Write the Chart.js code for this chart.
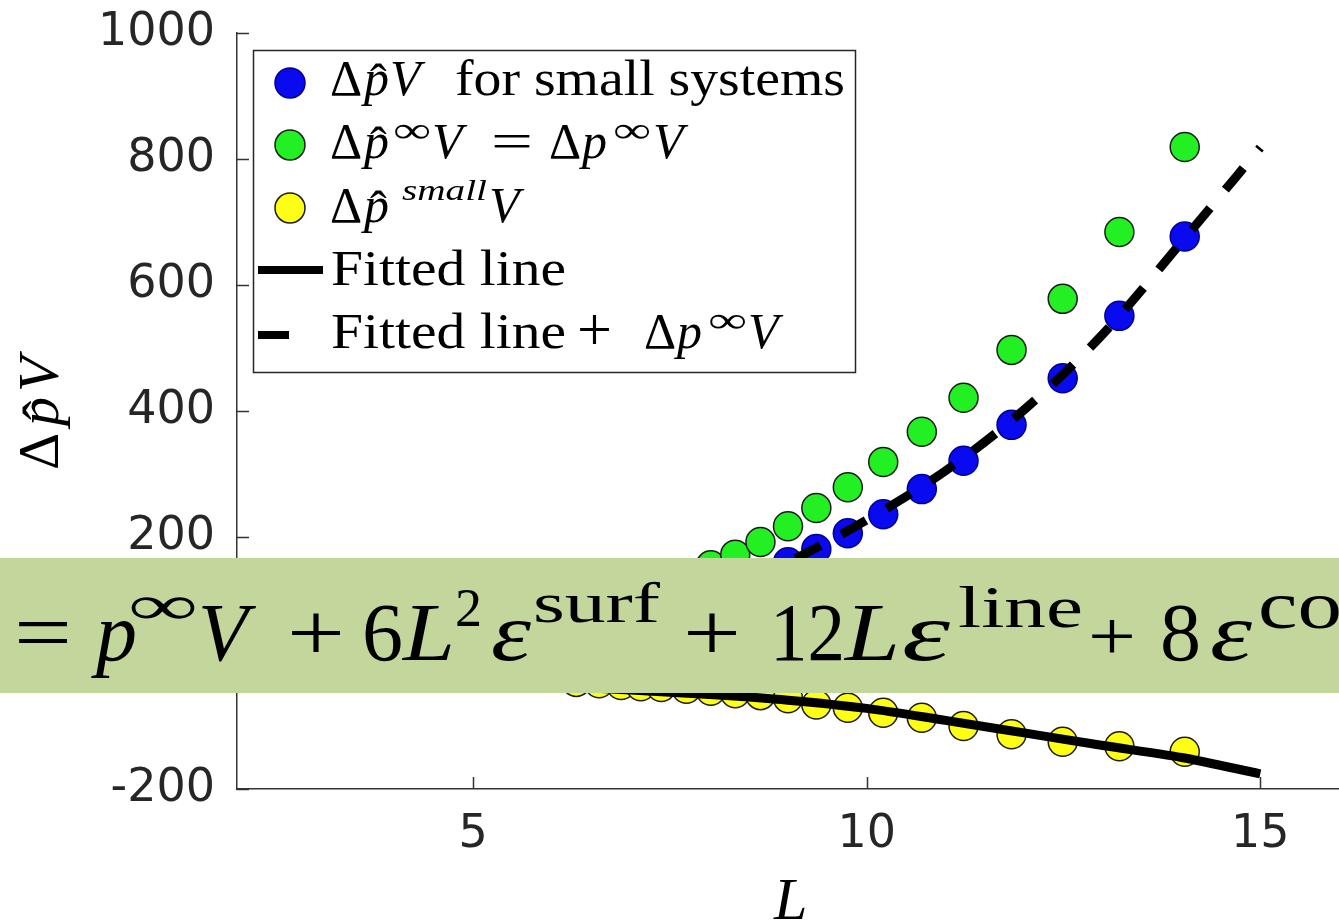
<!DOCTYPE html>
<html>
<head>
<meta charset="utf-8">
<script src="https://cdn.jsdelivr.net/npm/chart.js@4.4.1/dist/chart.umd.min.js"></script>
<style>
  body { margin: 0; background: #fff; }
  #wrap { position: relative; width: 1339px; height: 923px; overflow: hidden; }
  #overlay { position: absolute; left: 0; top: 0; pointer-events: none; }
</style>
</head>
<body>
<div id="wrap">
  <canvas id="pressureChart" width="1339" height="923"></canvas>
  <svg id="overlay" width="1339" height="923" font-family="Liberation Serif" fill="#000">
    <!-- y axis title -->
    <g transform="translate(58,470) rotate(-90)" font-size="58">
      <text x="0" y="0">Δ</text>
      <text x="44" y="0" font-style="italic">p</text>
      <text x="50" y="4">ˆ</text>
      <text x="78" y="0" font-style="italic">V</text>
    </g>
    <!-- x axis title -->
    <text x="774" y="919" font-size="60" font-style="italic">L</text>

    <!-- legend -->
    <rect x="253.5" y="50.5" width="602" height="322" fill="#fff" stroke="#262626" stroke-width="1.5"/>
    <circle id="legBlue" cx="290" cy="83" r="15" stroke-width="1.5"/>
    <circle id="legGreen" cx="290" cy="145" r="15" stroke-width="1.5"/>
    <circle id="legYellow" cx="290" cy="208" r="15" stroke-width="1.5"/>
    <line x1="258" y1="270" x2="323" y2="270" stroke="#000" stroke-width="8"/>
    <line x1="258" y1="335" x2="289" y2="335" stroke="#000" stroke-width="8"/>
    <g font-size="50">
      <text x="330" y="95">Δ</text>
      <text x="364" y="95" font-style="italic">p</text>
      <text x="370" y="99">ˆ</text>
      <text x="390" y="95" font-style="italic">V</text>
      <text x="455" y="95" textLength="390" lengthAdjust="spacingAndGlyphs">for small systems</text>

      <text x="330" y="158">Δ</text>
      <text x="364" y="158" font-style="italic">p</text>
      <text x="370" y="162">ˆ</text>
      <text x="393" y="142" font-size="36" textLength="38" lengthAdjust="spacingAndGlyphs">∞</text>
      <text x="432" y="158" font-style="italic">V</text>
      <text x="491" y="158" textLength="42" lengthAdjust="spacingAndGlyphs">=</text>
      <text x="549" y="158">Δ</text>
      <text x="582" y="158" font-style="italic">p</text>
      <text x="613" y="142" font-size="36" textLength="38" lengthAdjust="spacingAndGlyphs">∞</text>
      <text x="653" y="158" font-style="italic">V</text>

      <text x="330" y="222">Δ</text>
      <text x="364" y="222" font-style="italic">p</text>
      <text x="370" y="226">ˆ</text>
      <text x="402" y="200" font-size="30" font-style="italic" textLength="85" lengthAdjust="spacingAndGlyphs">small</text>
      <text x="489" y="222" font-style="italic">V</text>

      <text x="331" y="285" textLength="235" lengthAdjust="spacingAndGlyphs">Fitted line</text>

      <text x="331" y="348" textLength="235" lengthAdjust="spacingAndGlyphs">Fitted line</text>
      <text x="577" y="350" font-size="62">+</text>
      <text x="644" y="348">Δ</text>
      <text x="677" y="348" font-style="italic">p</text>
      <text x="708" y="332" font-size="36" textLength="39" lengthAdjust="spacingAndGlyphs">∞</text>
      <text x="748" y="348" font-style="italic">V</text>
    </g>

    <!-- equation banner -->
    <rect x="0" y="558" width="1339" height="135" fill="#c3d69b"/>
    <g font-size="82">
      <text x="14" y="660" textLength="58" lengthAdjust="spacingAndGlyphs">=</text>
      <text x="96" y="660" font-style="italic">p</text>
      <text x="128" y="624" font-size="56" textLength="70" lengthAdjust="spacingAndGlyphs">∞</text>
      <text x="198" y="660" font-style="italic">V</text>
      <text x="287" y="660" textLength="58" lengthAdjust="spacingAndGlyphs">+</text>
      <text x="362" y="660">6</text>
      <text x="403" y="660" font-style="italic" textLength="52" lengthAdjust="spacingAndGlyphs">L</text>
      <text x="455" y="626" font-size="54">2</text>
      <text x="491" y="660" font-style="italic" textLength="40" lengthAdjust="spacingAndGlyphs">ε</text>
      <text x="533" y="622" font-size="56" textLength="127" lengthAdjust="spacingAndGlyphs">surf</text>
      <text x="683" y="660" textLength="58" lengthAdjust="spacingAndGlyphs">+</text>
      <text x="770" y="660" textLength="75" lengthAdjust="spacingAndGlyphs">12</text>
      <text x="845" y="660" font-style="italic" textLength="55" lengthAdjust="spacingAndGlyphs">L</text>
      <text x="902" y="660" font-style="italic" textLength="48" lengthAdjust="spacingAndGlyphs">ε</text>
      <text x="958" y="627" font-size="60" textLength="125" lengthAdjust="spacingAndGlyphs">line</text>
      <text x="1088" y="660" font-size="70" textLength="48" lengthAdjust="spacingAndGlyphs">+</text>
      <text x="1160" y="660">8</text>
      <text x="1210" y="660" font-style="italic" textLength="42" lengthAdjust="spacingAndGlyphs">ε</text>
      <text x="1258" y="628" font-size="68" textLength="84" lengthAdjust="spacingAndGlyphs">co</text>
    </g>
  </svg>
</div>
<script>
// system sizes L (same for all three point series)
const L_VALUES = [6.31, 6.60, 6.88, 7.13, 7.39, 7.71, 8.02, 8.33, 8.65, 9.00, 9.36, 9.76, 10.21, 10.70, 11.23, 11.84, 12.49, 13.21, 14.04];
const SMALL_SYSTEMS = [44, 53, 61, 70, 81, 95, 111, 124, 141, 160, 181, 206, 236, 276, 321, 378, 452, 551, 677];
const INFINITE_PART = [74, 85, 96, 107, 119, 136, 155, 172, 192, 217, 246, 279, 319, 367, 421, 497, 578, 684, 819];
const SMALL_PART = [-30, -32, -35, -37, -38, -41, -44, -48, -51, -56, -66, -71, -79, -87, -100, -113, -125, -132, -141];

// fitted curves, read at whole L
const FIT_L = [6, 7, 8, 9, 10, 11, 12, 13, 14, 15];
const FITTED = [-36, -43, -50, -59, -72, -91, -111, -131, -150, -176];
const FITTED_PLUS_INF = [25, 60, 104, 160, 227, 305, 402, 522, 668, 818];

const X_TICKS = [5, 10, 15];
const Y_TICKS = [-200, 0, 200, 400, 600, 800, 1000];

const BLUE = "#0a0af0";
const BLUE_EDGE = "#000090";
const GREEN = "#22f022";
const YELLOW = "#ffff14";
const EDGE = "#1c1c1c";
const AXIS = "#333333";

function pairs(xs, ys) {
  return xs.map((x, i) => ({ x: x, y: ys[i] }));
}

document.getElementById("legBlue").setAttribute("fill", BLUE);
document.getElementById("legBlue").setAttribute("stroke", BLUE_EDGE);
document.getElementById("legGreen").setAttribute("fill", GREEN);
document.getElementById("legGreen").setAttribute("stroke", EDGE);
document.getElementById("legYellow").setAttribute("fill", YELLOW);
document.getElementById("legYellow").setAttribute("stroke", EDGE);

// MATLAB style ticks pointing into the plot
const innerTicks = {
  id: "innerTicks",
  afterDraw(chart) {
    const ctx = chart.ctx;
    const { x, y } = chart.scales;
    const area = chart.chartArea;
    ctx.save();
    ctx.strokeStyle = AXIS;
    ctx.lineWidth = 1.5;
    ctx.beginPath();
    X_TICKS.forEach((v) => {
      const px = Math.round(x.getPixelForValue(v)) + 0.5;
      ctx.moveTo(px, area.bottom);
      ctx.lineTo(px, area.bottom - 12);
    });
    Y_TICKS.forEach((v) => {
      const py = Math.round(y.getPixelForValue(v)) + 0.5;
      ctx.moveTo(area.left, py);
      ctx.lineTo(area.left + 12, py);
    });
    ctx.stroke();
    ctx.restore();
  },
};

const pointStyle = (fill, edge, order) => ({
  backgroundColor: fill,
  borderColor: edge,
  pointRadius: 14.5,
  pointHoverRadius: 14.5,
  pointBorderWidth: 1.5,
  showLine: false,
  order: order,
});

const ctx = document.getElementById("pressureChart").getContext("2d");

new Chart(ctx, {
  type: "scatter",
  data: {
    datasets: [
      {
        label: "Fitted line + Δp∞V",
        data: pairs(FIT_L, FITTED_PLUS_INF),
        showLine: true,
        borderColor: "#000",
        borderWidth: 9,
        borderDash: [28, 24],
        borderCapStyle: "butt",
        cubicInterpolationMode: "monotone",
        pointRadius: 0,
        order: 0,
      },
      {
        label: "Fitted line",
        data: pairs(FIT_L, FITTED),
        showLine: true,
        borderColor: "#000",
        borderWidth: 9,
        cubicInterpolationMode: "monotone",
        pointRadius: 0,
        order: 0,
      },
      Object.assign({ label: "Δp̂V for small systems", data: pairs(L_VALUES, SMALL_SYSTEMS) }, pointStyle(BLUE, BLUE_EDGE, 1)),
      Object.assign({ label: "Δp̂∞V = Δp∞V", data: pairs(L_VALUES, INFINITE_PART) }, pointStyle(GREEN, EDGE, 2)),
      Object.assign({ label: "Δp̂smallV", data: pairs(L_VALUES, SMALL_PART) }, pointStyle(YELLOW, EDGE, 3)),
    ],
  },
  options: {
    responsive: false,
    animation: false,
    devicePixelRatio: 1,
    layout: { autoPadding: false, padding: { top: 33, right: 0, bottom: 0, left: 0 } },
    plugins: {
      legend: { display: false },
      tooltip: { enabled: false },
    },
    scales: {
      x: {
        type: "linear",
        min: 2,
        max: 16,
        grid: { display: false, drawTicks: false },
        border: { display: true, color: AXIS, width: 1.5 },
        afterBuildTicks: (axis) => {
          axis.ticks = X_TICKS.map((v) => ({ value: v }));
        },
        afterFit: (axis) => {
          axis.height = 134;
          axis.paddingLeft = 0;
          axis.paddingRight = 0;
        },
        ticks: {
          color: "#262626",
          font: { family: "DejaVu Sans", size: 46 },
          padding: 18,
          maxRotation: 0,
          minRotation: 0,
          callback: (v) => String(v),
        },
      },
      y: {
        type: "linear",
        min: -200,
        max: 1000,
        grid: { display: false, drawTicks: false },
        border: { display: true, color: AXIS, width: 1.5 },
        afterBuildTicks: (axis) => {
          axis.ticks = Y_TICKS.map((v) => ({ value: v }));
        },
        afterFit: (axis) => {
          axis.width = 237;
          axis.paddingTop = 0;
          axis.paddingBottom = 0;
        },
        ticks: {
          color: "#262626",
          font: { family: "DejaVu Sans", size: 46 },
          padding: 22,
          callback: (v) => String(v),
        },
      },
    },
  },
  plugins: [innerTicks],
});
</script>
</body>
</html>
